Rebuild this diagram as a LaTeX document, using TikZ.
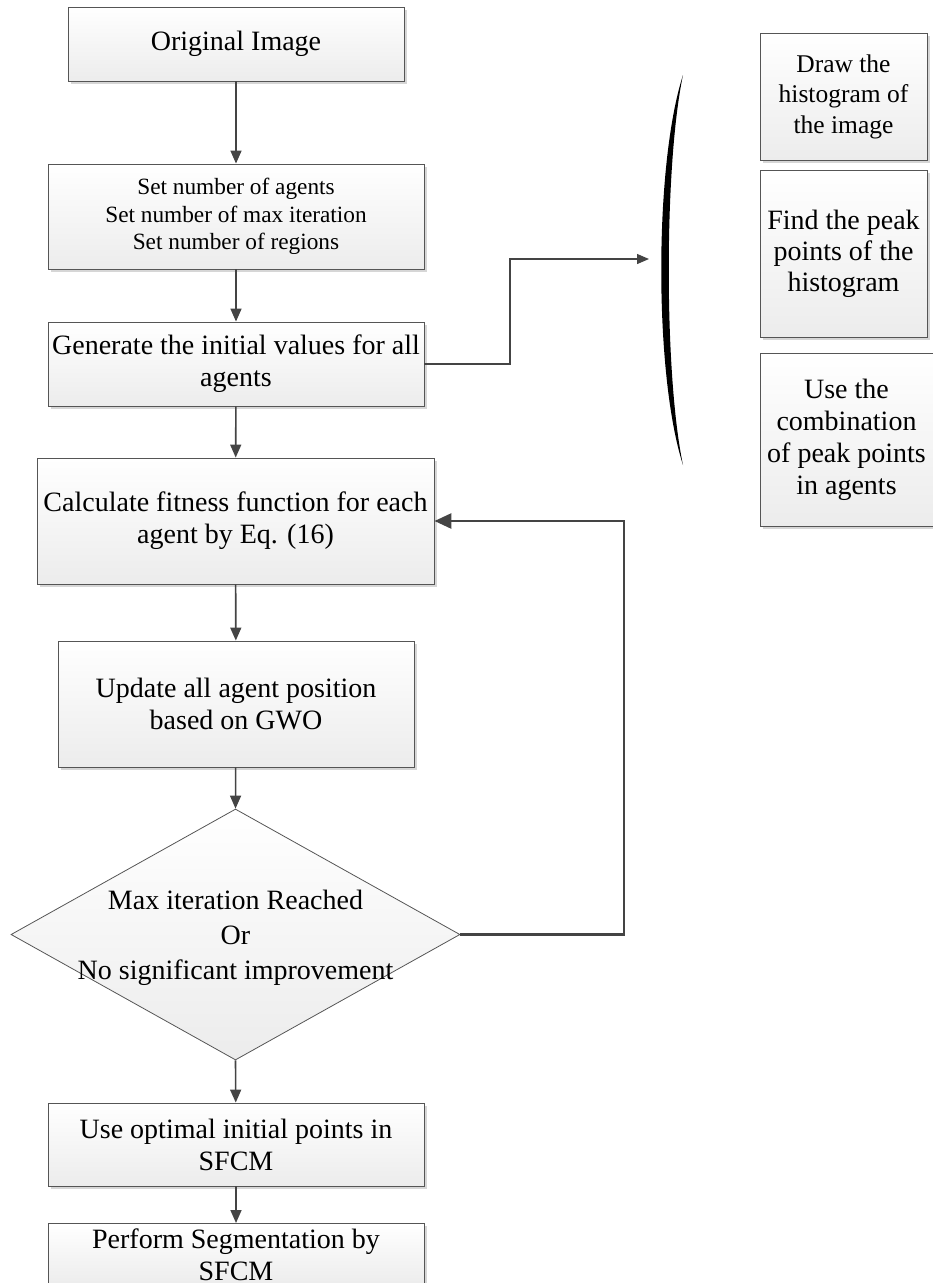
\documentclass[tikz,border=0pt]{standalone}
\usepackage{fontspec}
\setmainfont{Liberation Serif}
\usetikzlibrary{arrows.meta,shapes.geometric,shadows}
\definecolor{boxline}{HTML}{555555}
\definecolor{arrowc}{HTML}{444444}
\definecolor{shadowc}{HTML}{D6D6D6}
\definecolor{fillbot}{HTML}{ECECEC}
\begin{document}
\begin{tikzpicture}[x=1pt,y=-1pt,
  flowbox/.style={draw=boxline,line width=0.9pt,rectangle,top color=white,bottom color=fillbot,
    drop shadow={shadow xshift=3pt,shadow yshift=-3pt,fill=shadowc,opacity=1},
    inner sep=0pt,align=center,font=\fontsize{28}{32}\selectfont},
  decision/.style={draw=boxline,line width=0.8pt,diamond,inner sep=0pt,top color=white,bottom color=fillbot,
    minimum width=449pt,minimum height=251pt},
  flowarrow/.style={draw=arrowc,line width=1.6pt,-{Triangle[length=13pt,width=11pt]}},
  looparrow/.style={draw=arrowc,line width=2.8pt,-{Triangle[length=17pt,width=15pt]}},
  sidearrow/.style={draw=arrowc,line width=1.3pt,-{Triangle[length=12pt,width=10pt]}}
]
\useasboundingbox (0,0) rectangle (933,1283);

\node[flowbox,minimum width=336pt,minimum height=74pt] (b1) at (236,44) {Original Image};
\node[flowbox,minimum width=376pt,minimum height=105pt,font=\fontsize{23.3}{27.5}\selectfont] (b2) at (236,216.5)
  {\raisebox{-3pt}{\parbox{370pt}{\centering Set number of agents\\Set number of max iteration\\Set number of regions}}};
\node[flowbox,minimum width=376pt,minimum height=84pt] (b3) at (236,364)
  {Generate the initial values for all\\agents};
\node[flowbox,minimum width=397pt,minimum height=126pt] (b4) at (235.5,521)
  {Calculate fitness function for each\\agent by Eq. (16)};
\node[flowbox,minimum width=356pt,minimum height=126pt] (b5) at (236,704)
  {Update all agent position\\based on GWO};
\node[decision] (dia) at (235.5,934.5) {};
\node[font=\fontsize{28}{35}\selectfont,align=center] (diatext) at (235.5,938)
  {Max iteration Reached\\Or\\No significant improvement};
\node[flowbox,minimum width=376pt,minimum height=83pt] (b6) at (236,1144.5)
  {Use optimal initial points in\\SFCM};
\node[flowbox,minimum width=376pt,minimum height=62pt,anchor=north] (b7) at (236,1223)
  {\parbox{376pt}{\centering Perform Segmentation by\\SFCM}};

\node[flowbox,minimum width=167pt,minimum height=127pt,font=\fontsize{25.5}{30.5}\selectfont] (r1) at (843.5,96.5)
  {Draw the\\histogram of\\the image};
\node[flowbox,minimum width=167pt,minimum height=167pt,font=\fontsize{28}{31}\selectfont] (r2) at (843.5,253.5)
  {Find the peak\\points of the\\histogram};
\node[flowbox,minimum width=173pt,minimum height=173pt,font=\fontsize{28}{32}\selectfont] (r3) at (846.5,439.5)
  {Use the\\combination\\of peak points\\in agents};

% parenthesis-like bracket
\coordinate (brtop) at (683,75);
\coordinate (brbot) at (683,465);
\fill[black] (brtop) .. controls (654,165) and (654,375) .. (brbot)
  .. controls (664,375) and (664,165) .. (brtop);

% connectors
\draw[flowarrow] (b1) -- (b2);
\draw[flowarrow] (b2) -- (b3);
\draw[flowarrow] (b3) -- (b4);
\draw[flowarrow] (b4) -- (b5);
\draw[flowarrow] (b5) -- (dia.north);
\draw[flowarrow] (dia.south) -- (b6);
\draw[flowarrow] (b6) -- (b7);

\coordinate (fb) at (624,0);
\draw[looparrow] (dia.east) -| (fb |- b4.east) -- (b4.east);

\coordinate (sa) at (510,0);
\coordinate (satip) at (649,259);
\draw[sidearrow] (b3.east) -| (sa |- satip) -- (satip);
\end{tikzpicture}
\end{document}
